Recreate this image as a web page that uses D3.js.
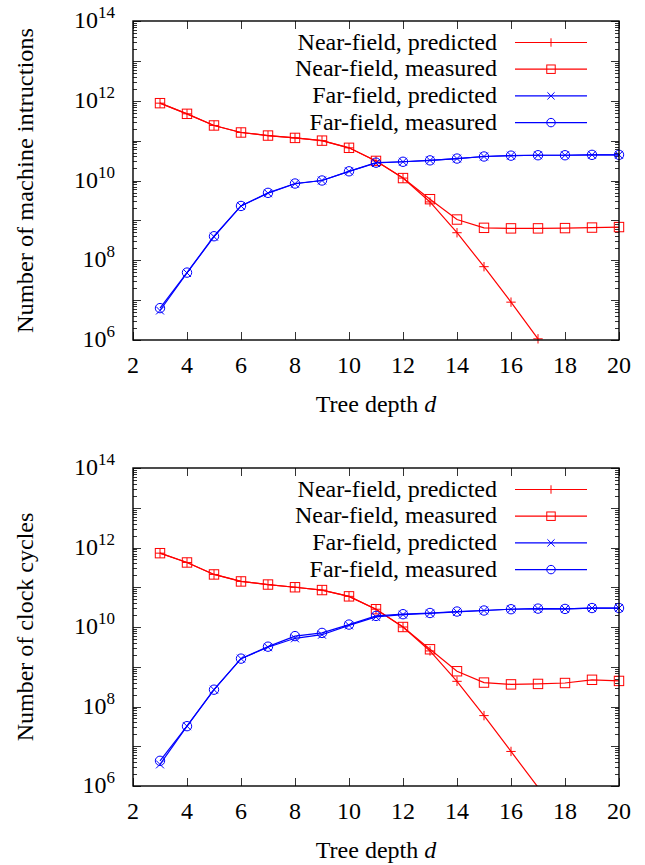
<!DOCTYPE html>
<html>
<head>
<meta charset="utf-8">
<script src="https://cdn.jsdelivr.net/npm/d3@7"></script>
</head>
<body style="margin:0">
<script>
// tree depths on the x axis
var depth = [3, 4, 5, 6, 7, 8, 9, 10, 11, 12, 13, 14, 15, 16, 17, 18, 19, 20];

// top panel: number of machine instructions
var instrNearPred = [8.7e11, 4.7e11, 2.4e11, 1.6e11, 1.34e11, 1.17e11, 1.0e11, 6.6e10, 3.1e10, 1.15e10, 2.9e9, 4.9e8, 6.9e7, 8.9e6, 1.07e6];
var instrNearMeas = [8.7e11, 4.7e11, 2.4e11, 1.6e11, 1.34e11, 1.17e11, 1.0e11, 6.6e10, 3.1e10, 1.15e10, 3.4e9, 1.05e9, 6.5e8, 6.3e8, 6.3e8, 6.4e8, 6.6e8, 6.8e8];
var instrFarPred  = [5.5e6, 4.8e7, 3.9e8, 2.3e9, 4.8e9, 8.3e9, 1.0e10, 1.7e10, 2.75e10, 2.95e10, 3.2e10, 3.55e10, 4.0e10, 4.2e10, 4.3e10, 4.3e10, 4.4e10, 4.4e10];
var instrFarMeas  = [6.3e6, 4.9e7, 4.0e8, 2.3e9, 4.9e9, 8.4e9, 1.0e10, 1.7e10, 2.8e10, 2.95e10, 3.2e10, 3.55e10, 4.0e10, 4.2e10, 4.3e10, 4.3e10, 4.4e10, 4.4e10];

// bottom panel: number of clock cycles
var cyclesNearPred = [7.2e11, 4.2e11, 2.1e11, 1.4e11, 1.17e11, 1.0e11, 8.5e10, 5.9e10, 2.8e10, 1.0e10, 2.5e9, 4.3e8, 5.9e7, 7.4e6, 9.3e5];
var cyclesNearMeas = [7.2e11, 4.2e11, 2.1e11, 1.4e11, 1.17e11, 1.0e11, 8.5e10, 5.9e10, 2.8e10, 1.0e10, 2.75e9, 7.7e8, 4.0e8, 3.6e8, 3.7e8, 3.9e8, 4.7e8, 4.4e8];
var cyclesFarPred  = [3.5e6, 3.2e7, 2.65e8, 1.6e9, 3.1e9, 5.2e9, 6.4e9, 1.1e10, 1.8e10, 2.05e10, 2.2e10, 2.4e10, 2.6e10, 2.8e10, 2.9e10, 2.85e10, 3.0e10, 3.0e10];
var cyclesFarMeas  = [4.3e6, 3.2e7, 2.65e8, 1.6e9, 3.2e9, 5.9e9, 7.1e9, 1.15e10, 1.9e10, 2.1e10, 2.25e10, 2.45e10, 2.6e10, 2.8e10, 2.9e10, 2.85e10, 3.0e10, 3.0e10];

// axis ticks
var xTicks = [2, 4, 6, 8, 10, 12, 14, 16, 18, 20];
var yExponents = [6, 7, 8, 9, 10, 11, 12, 13, 14];
var yLabelExponents = [6, 8, 10, 12, 14];

var legendNames = ['Near-field, predicted', 'Near-field, measured', 'Far-field, predicted', 'Far-field, measured'];

var RED = '#ff0000', BLUE = '#0000ff';
var FS = 24;

var svg = d3.select('body')
    .append('svg')
    .attr('width', 645)
    .attr('height', 865);

var left = 133, right = 619;

function label(g) {
    return g.append('text')
        .attr('font-size', FS)
        .style('font-family', "'Liberation Serif'");
}

function drawPanel(top, bottom, yLabel, series, id) {
    var x = d3.scaleLinear().domain([2, 20]).range([left, right]);
    var y = d3.scaleLog().domain([1e6, 1e14]).range([bottom, top]);
    var g = svg.append('g');

    g.append('clipPath').attr('id', 'clip' + id)
        .append('rect')
        .attr('x', left).attr('y', top)
        .attr('width', right - left).attr('height', bottom - top);

    // minor log ticks, left and right, pointing inwards
    var minor = [];
    yExponents.slice(0, -1).forEach(function (e) {
        for (var m = 2; m <= 9; m++) minor.push(m * Math.pow(10, e));
    });
    var tk = g.append('g').attr('stroke', '#333').attr('stroke-width', 1);
    minor.forEach(function (v) {
        var yy = Math.round(y(v)) + 0.5;
        tk.append('line').attr('x1', left).attr('x2', left + 4).attr('y1', yy).attr('y2', yy);
        tk.append('line').attr('x1', right).attr('x2', right - 4).attr('y1', yy).attr('y2', yy);
    });
    yExponents.forEach(function (e) {
        var yy = Math.round(y(Math.pow(10, e))) + 0.5;
        tk.append('line').attr('x1', left).attr('x2', left + 8).attr('y1', yy).attr('y2', yy);
        tk.append('line').attr('x1', right).attr('x2', right - 8).attr('y1', yy).attr('y2', yy);
    });
    xTicks.forEach(function (v) {
        var xx = Math.round(x(v)) + 0.5;
        tk.append('line').attr('x1', xx).attr('x2', xx).attr('y1', bottom).attr('y2', bottom - 8);
        tk.append('line').attr('x1', xx).attr('x2', xx).attr('y1', top).attr('y2', top + 8);
    });

    // tick labels
    xTicks.forEach(function (v) {
        label(g).attr('x', x(v)).attr('y', bottom + 33)
            .attr('text-anchor', 'middle')
            .text(v);
    });

    yLabelExponents.forEach(function (e) {
        var t = label(g)
            .attr('x', 115)
            .attr('y', y(Math.pow(10, e)) + 7)
            .attr('text-anchor', 'end');
        t.append('tspan').text('10');
        t.append('tspan').attr('font-size', 17).attr('dy', -10).text(e);
    });

    // axis titles
    var yt = label(g)
        .attr('transform', 'translate(33,' + ((top + bottom) / 2) + ') rotate(-90)')
        .attr('text-anchor', 'middle')
        .text(yLabel);
    if (id === 'top') yt.attr('textLength', 305).attr('lengthAdjust', 'spacingAndGlyphs');

    var xt = label(g)
        .attr('x', (left + right) / 2)
        .attr('y', bottom + 72)
        .attr('text-anchor', 'middle');
    xt.append('tspan').text('Tree depth ');
    xt.append('tspan').attr('font-style', 'italic').text('d');

    // series lines and markers
    var line = d3.line()
        .x(function (d) { return x(d[0]); })
        .y(function (d) { return y(d[1]); });

    series.forEach(function (s) {
        var pts = s.values.map(function (v, i) { return [depth[i], v]; });
        g.append('path')
            .attr('d', line(pts))
            .attr('fill', 'none')
            .attr('stroke', s.color)
            .attr('stroke-width', 1.2)
            .attr('clip-path', 'url(#clip' + id + ')');
        pts.filter(function (p) { return p[1] >= 1e6; }).forEach(function (p) {
            drawMarker(g, s.marker, x(p[0]), y(p[1]), s.color, 1);
        });
    });

    // legend
    var lg = g.append('g');
    series.forEach(function (s, i) {
        var ly = top + 21.5 + i * 26.7;
        label(lg)
            .attr('x', 497).attr('y', ly + 7)
            .attr('text-anchor', 'end')
            .text(legendNames[i]);
        lg.append('line')
            .attr('x1', 515).attr('x2', 587)
            .attr('y1', ly).attr('y2', ly)
            .attr('stroke', s.color).attr('stroke-width', 1.2);
        drawMarker(lg, s.marker, 551, ly, s.color, 0.9);
    });

    // frame
    g.append('rect')
        .attr('x', left).attr('y', top)
        .attr('width', right - left).attr('height', bottom - top)
        .attr('fill', 'none')
        .attr('stroke', '#000')
        .attr('stroke-width', 1.4);
}

function drawMarker(g, type, cx, cy, color, k) {
    var m = g.append('g').attr('stroke', color).attr('stroke-width', 1).attr('fill', 'none');
    var h = 4.7 * k;
    if (type === 'plus') {
        m.append('line').attr('x1', cx - h).attr('x2', cx + h).attr('y1', cy).attr('y2', cy);
        m.append('line').attr('x1', cx).attr('x2', cx).attr('y1', cy - h).attr('y2', cy + h);
    } else if (type === 'square') {
        m.append('rect').attr('x', cx - h).attr('y', cy - h).attr('width', 2 * h).attr('height', 2 * h);
    } else if (type === 'cross') {
        var c = h * 0.85;
        m.append('line').attr('x1', cx - c).attr('x2', cx + c).attr('y1', cy - c).attr('y2', cy + c);
        m.append('line').attr('x1', cx - c).attr('x2', cx + c).attr('y1', cy + c).attr('y2', cy - c);
    } else {
        m.append('circle').attr('cx', cx).attr('cy', cy).attr('r', h);
    }
}

drawPanel(21, 340, 'Number of machine intructions', [
    { values: instrNearPred, color: RED, marker: 'plus' },
    { values: instrNearMeas, color: RED, marker: 'square' },
    { values: instrFarPred, color: BLUE, marker: 'cross' },
    { values: instrFarMeas, color: BLUE, marker: 'circle' }
], 'top');

drawPanel(468, 786, 'Number of clock cycles', [
    { values: cyclesNearPred, color: RED, marker: 'plus' },
    { values: cyclesNearMeas, color: RED, marker: 'square' },
    { values: cyclesFarPred, color: BLUE, marker: 'cross' },
    { values: cyclesFarMeas, color: BLUE, marker: 'circle' }
], 'bottom');
</script>
</body>
</html>
